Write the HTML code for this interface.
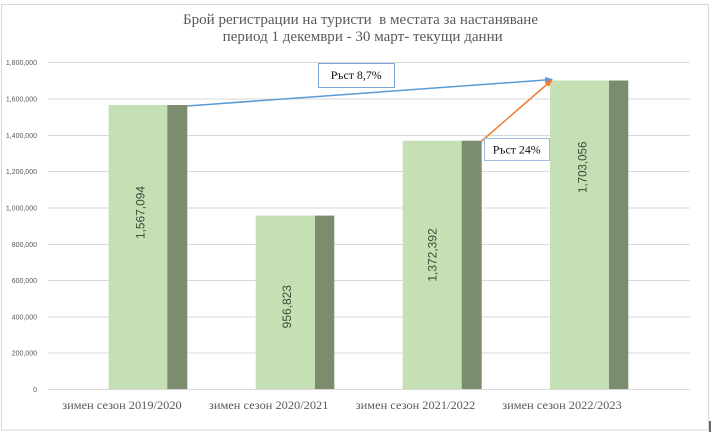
<!DOCTYPE html>
<html><head><meta charset="utf-8"><style>
html,body{margin:0;padding:0;background:#fff;}
svg{display:block;}
text{white-space:pre;}
</style></head><body>
<svg width="711" height="433" viewBox="0 0 711 433" xmlns="http://www.w3.org/2000/svg">
<defs>
<marker id="ab" markerWidth="8" markerHeight="8" refX="7" refY="4" orient="auto" markerUnits="userSpaceOnUse"><path d="M0,0.8 L8,4 L0,7.2 z" fill="#5b9bd5"/></marker>
<marker id="ao" markerWidth="8" markerHeight="8" refX="7" refY="4" orient="auto" markerUnits="userSpaceOnUse"><path d="M0,0.8 L8,4 L0,7.2 z" fill="#ed7d31"/></marker>
</defs>
<rect x="0" y="0" width="711" height="433" fill="#fff"/>
<rect x="1.5" y="4.5" width="707" height="425.5" fill="#fff" stroke="#d9d9d9" stroke-width="1"/>
<rect x="709" y="421" width="2" height="11" fill="#666"/>
<!-- title -->
<g font-family="Liberation Serif, serif" font-size="15" fill="#595959" text-anchor="middle">
<text x="360.5" y="24" textLength="355" lengthAdjust="spacingAndGlyphs">Брой регистрации на туристи  в местата за настаняване</text>
<text x="362.7" y="41" textLength="280" lengthAdjust="spacingAndGlyphs">период 1 декември - 30 март- текущи данни</text>
</g>
<!-- gridlines -->
<g stroke="#d9d9d9" stroke-width="1">
<line x1="48" y1="62.5" x2="690" y2="62.5"/>
<line x1="48" y1="99" x2="690" y2="99"/>
<line x1="48" y1="135.5" x2="690" y2="135.5"/>
<line x1="48" y1="171.5" x2="690" y2="171.5"/>
<line x1="48" y1="208" x2="690" y2="208"/>
<line x1="48" y1="244.5" x2="690" y2="244.5"/>
<line x1="48" y1="280.5" x2="690" y2="280.5"/>
<line x1="48" y1="317" x2="690" y2="317"/>
<line x1="48" y1="353" x2="690" y2="353"/>
<line x1="48" y1="389.5" x2="690" y2="389.5"/>
</g>
<!-- y labels -->
<g font-family="Liberation Sans, sans-serif" font-size="7" fill="#595959" text-anchor="end">
<text x="37" y="65">1,800,000</text>
<text x="37" y="101.5">1,600,000</text>
<text x="37" y="138">1,400,000</text>
<text x="37" y="174">1,200,000</text>
<text x="37" y="210.5">1,000,000</text>
<text x="37" y="247">800,000</text>
<text x="37" y="283">600,000</text>
<text x="37" y="319.5">400,000</text>
<text x="37" y="355.5">200,000</text>
<text x="37" y="392">0</text>
</g>
<!-- bars -->
<g>
<rect x="108.7" y="105" width="58.6" height="284" fill="#c5e0b4"/>
<rect x="167.3" y="105" width="20" height="284" fill="#7c8c6e"/>
<rect x="255.7" y="215.6" width="59.3" height="173.4" fill="#c5e0b4"/>
<rect x="315" y="215.6" width="19.3" height="173.4" fill="#7c8c6e"/>
<rect x="402.7" y="140.7" width="59" height="248.3" fill="#c5e0b4"/>
<rect x="461.7" y="140.7" width="20" height="248.3" fill="#7c8c6e"/>
<rect x="550" y="80.5" width="59" height="308.5" fill="#c5e0b4"/>
<rect x="609" y="80.5" width="19.3" height="308.5" fill="#7c8c6e"/>
</g>
<!-- data labels -->
<g font-family="Liberation Sans, sans-serif" font-size="12" fill="#3f4a3a" text-anchor="middle">
<text transform="translate(144.3,212.5) rotate(-90)" textLength="53" lengthAdjust="spacingAndGlyphs">1,567,094</text>
<text transform="translate(291,306.7) rotate(-90)" textLength="43.3" lengthAdjust="spacingAndGlyphs">956,823</text>
<text transform="translate(436.6,255) rotate(-90)" textLength="53.4" lengthAdjust="spacingAndGlyphs">1,372,392</text>
<text transform="translate(586.6,167.3) rotate(-90)" textLength="51.3" lengthAdjust="spacingAndGlyphs">1,703,056</text>
</g>
<!-- category labels -->
<g font-family="Liberation Serif, serif" font-size="12" fill="#595959" text-anchor="middle">
<text x="122" y="409" textLength="119.5" lengthAdjust="spacingAndGlyphs">зимен сезон 2019/2020</text>
<text x="268.7" y="409" textLength="119.5" lengthAdjust="spacingAndGlyphs">зимен сезон 2020/2021</text>
<text x="415.5" y="409" textLength="119.5" lengthAdjust="spacingAndGlyphs">зимен сезон 2021/2022</text>
<text x="562" y="409" textLength="119.5" lengthAdjust="spacingAndGlyphs">зимен сезон 2022/2023</text>
</g>
<!-- arrows -->
<line x1="187" y1="106" x2="552" y2="79.5" stroke="#5b9bd5" stroke-width="1.5" marker-end="url(#ab)"/>
<line x1="481.7" y1="141" x2="552" y2="80" stroke="#ed7d31" stroke-width="1.5" marker-end="url(#ao)"/>
<!-- annotation boxes -->
<rect x="318.5" y="63.5" width="76" height="24" fill="#fff" stroke="#7ea6d8" stroke-width="1"/>
<text x="330.7" y="79" font-family="Liberation Serif, serif" font-size="12" fill="#111" textLength="51" lengthAdjust="spacingAndGlyphs">Ръст 8,7%</text>
<rect x="484.5" y="138.5" width="65" height="22" fill="#fff" stroke="#9dbde3" stroke-width="1"/>
<text x="492.7" y="153.3" font-family="Liberation Serif, serif" font-size="12" fill="#111" textLength="48" lengthAdjust="spacingAndGlyphs">Ръст 24%</text>
</svg>
</body></html>
